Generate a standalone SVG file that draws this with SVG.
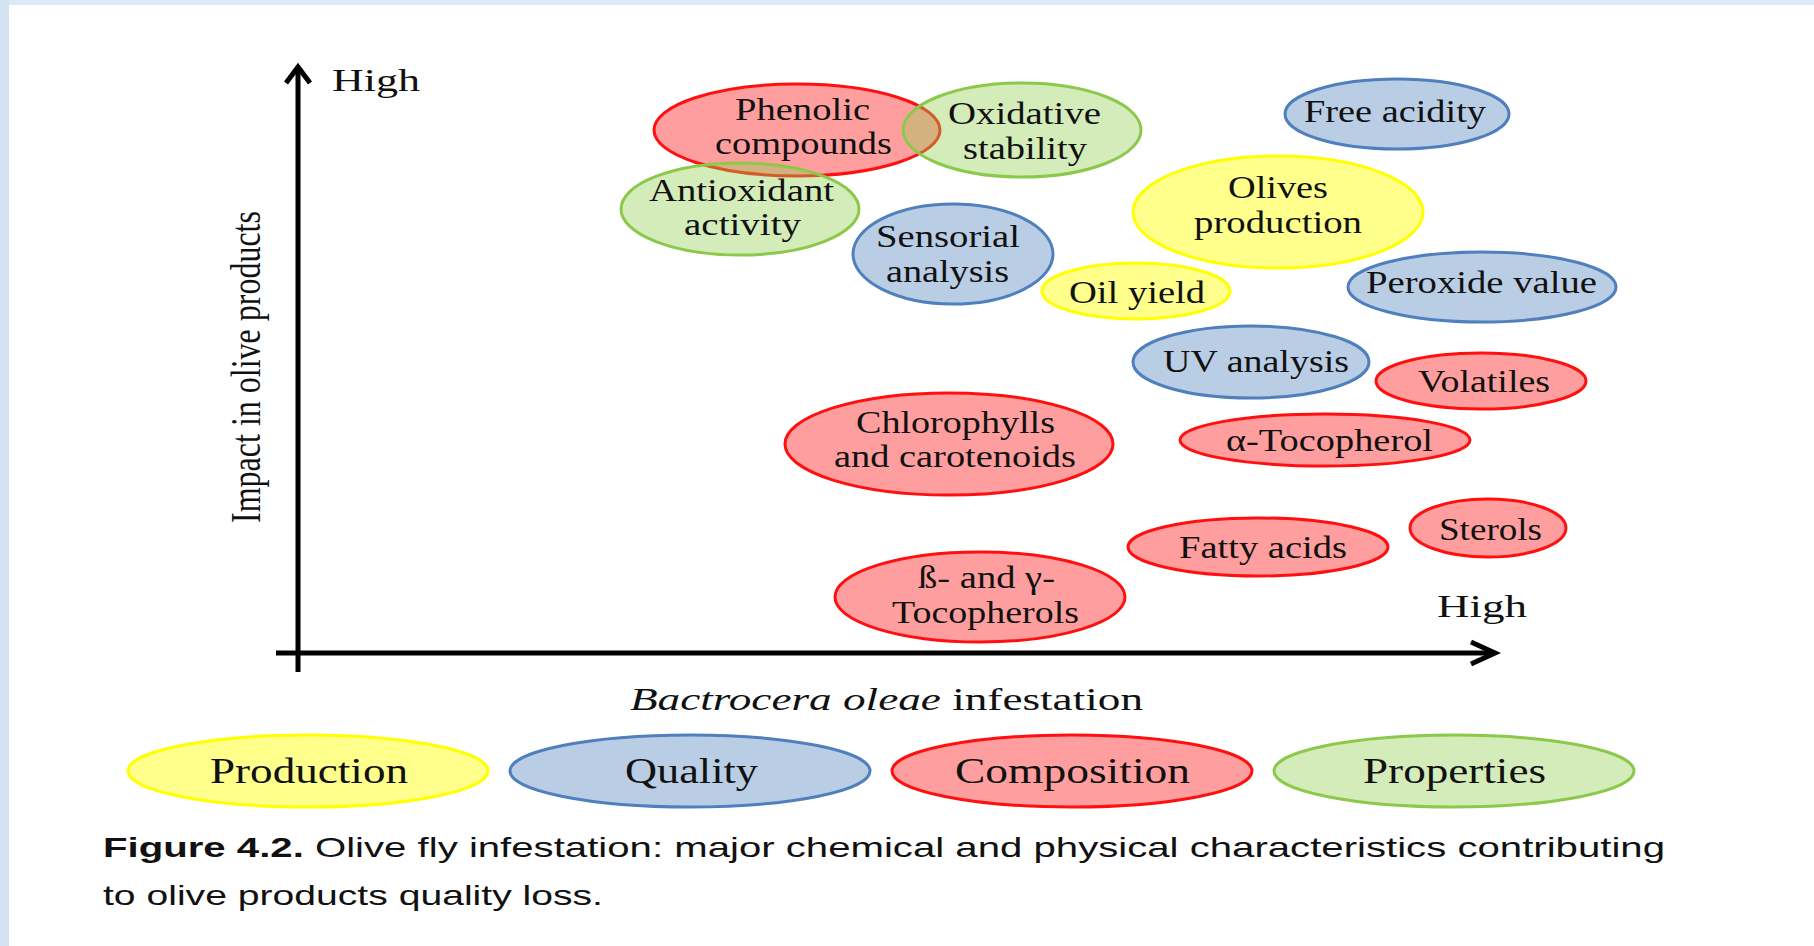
<svg xmlns="http://www.w3.org/2000/svg" width="1814" height="946" viewBox="0 0 1814 946">
<defs>
<style>
.lbl{font-family:"Liberation Serif","Times New Roman",serif;font-size:32px;fill:#111;}
.leg{font-family:"Liberation Serif","Times New Roman",serif;font-size:35px;fill:#111;}
.cap{font-family:"Liberation Sans",Arial,sans-serif;font-size:28px;fill:#111;}
.red{fill:rgba(255,0,0,0.38);stroke:#ff1010;stroke-width:3;}
.grn{fill:rgba(146,208,80,0.4);stroke:#8cc84a;stroke-width:3;}
.blu{fill:rgba(79,129,189,0.4);stroke:#4f7fbd;stroke-width:3;}
.yel{fill:rgba(255,255,0,0.45);stroke:#ffff00;stroke-width:3;}
.axis{stroke:#000;stroke-width:5;fill:none;}
</style>
</defs>
<rect x="0" y="0" width="1814" height="946" fill="#ffffff"/>
<rect x="0" y="0" width="1814" height="5" fill="#dde9f5"/>
<rect x="0" y="0" width="9" height="946" fill="#d3e3f4"/>

<g id="connectors">
<line class="axis" x1="298" y1="68" x2="298" y2="672"/>
<polyline class="axis" points="286,83 298,67 310,83" stroke-linejoin="miter"/>
<line class="axis" x1="276" y1="653" x2="1494" y2="653"/>
<polyline class="axis" points="1471,642 1495,653 1471,664" stroke-linejoin="miter"/>
</g>

<g id="axis-labels">
<text class="lbl" x="332" y="91" textLength="88" lengthAdjust="spacingAndGlyphs">High</text>
<text class="lbl" x="1437" y="617" textLength="90" lengthAdjust="spacingAndGlyphs">High</text>
<text class="lbl" x="630" y="710" textLength="513" lengthAdjust="spacingAndGlyphs"><tspan font-style="italic">Bactrocera oleae</tspan> infestation</text>
<text class="lbl" transform="translate(260,367) scale(1.3,1) rotate(-90)" text-anchor="middle" font-size="33">Impact in olive products</text>
</g>

<g id="node-phenolic">
<ellipse class="red" cx="797" cy="130" rx="143" ry="46"/>
<text class="lbl" x="735" y="120" font-size="31" textLength="135" lengthAdjust="spacingAndGlyphs">Phenolic</text>
<text class="lbl" x="715" y="154" font-size="31" textLength="177" lengthAdjust="spacingAndGlyphs">compounds</text>
</g>
<g id="node-oxidative">
<ellipse class="grn" cx="1022" cy="130" rx="119" ry="47"/>
<text class="lbl" x="948" y="124" textLength="153" lengthAdjust="spacingAndGlyphs">Oxidative</text>
<text class="lbl" x="963" y="159" textLength="124" lengthAdjust="spacingAndGlyphs">stability</text>
</g>
<g id="node-antioxidant">
<ellipse class="grn" cx="740" cy="209" rx="119" ry="46"/>
<text class="lbl" x="649" y="201" textLength="185" lengthAdjust="spacingAndGlyphs">Antioxidant</text>
<text class="lbl" x="684" y="235" textLength="117" lengthAdjust="spacingAndGlyphs">activity</text>
</g>
<g id="node-freeacidity">
<ellipse class="blu" cx="1397" cy="114" rx="112" ry="35"/>
<text class="lbl" x="1304" y="122" textLength="182" lengthAdjust="spacingAndGlyphs">Free acidity</text>
</g>
<g id="node-sensorial">
<ellipse class="blu" cx="953" cy="254" rx="100" ry="50"/>
<text class="lbl" x="876" y="247" textLength="144" lengthAdjust="spacingAndGlyphs">Sensorial</text>
<text class="lbl" x="886" y="282" textLength="123" lengthAdjust="spacingAndGlyphs">analysis</text>
</g>
<g id="node-olives">
<ellipse class="yel" cx="1278" cy="212" rx="145" ry="56"/>
<text class="lbl" x="1228" y="198" textLength="100" lengthAdjust="spacingAndGlyphs">Olives</text>
<text class="lbl" x="1194" y="233" textLength="168" lengthAdjust="spacingAndGlyphs">production</text>
</g>
<g id="node-oilyield">
<ellipse class="yel" cx="1136" cy="291" rx="94" ry="28"/>
<text class="lbl" x="1069" y="303" textLength="136" lengthAdjust="spacingAndGlyphs">Oil yield</text>
</g>
<g id="node-peroxide">
<ellipse class="blu" cx="1482" cy="287" rx="134" ry="35"/>
<text class="lbl" x="1366" y="293" textLength="231" lengthAdjust="spacingAndGlyphs">Peroxide value</text>
</g>
<g id="node-uv">
<ellipse class="blu" cx="1251" cy="362" rx="118" ry="36"/>
<text class="lbl" x="1163" y="372" textLength="186" lengthAdjust="spacingAndGlyphs">UV analysis</text>
</g>
<g id="node-volatiles">
<ellipse class="red" cx="1481" cy="381" rx="105" ry="28"/>
<text class="lbl" x="1418" y="392" textLength="132" lengthAdjust="spacingAndGlyphs">Volatiles</text>
</g>
<g id="node-chlorophylls">
<ellipse class="red" cx="949" cy="444" rx="164" ry="51"/>
<text class="lbl" x="856" y="433" textLength="199" lengthAdjust="spacingAndGlyphs">Chlorophylls</text>
<text class="lbl" x="834" y="467" textLength="242" lengthAdjust="spacingAndGlyphs">and carotenoids</text>
</g>
<g id="node-alphatoc">
<ellipse class="red" cx="1325" cy="440" rx="145" ry="26"/>
<text class="lbl" x="1226" y="451" textLength="207" lengthAdjust="spacingAndGlyphs">α-Tocopherol</text>
</g>
<g id="node-sterols">
<ellipse class="red" cx="1488" cy="528" rx="78" ry="29"/>
<text class="lbl" x="1439" y="540" textLength="103" lengthAdjust="spacingAndGlyphs">Sterols</text>
</g>
<g id="node-fatty">
<ellipse class="red" cx="1258" cy="547" rx="130" ry="29"/>
<text class="lbl" x="1179" y="558" textLength="168" lengthAdjust="spacingAndGlyphs">Fatty acids</text>
</g>
<g id="node-tocopherols">
<ellipse class="red" cx="980" cy="597" rx="145" ry="45"/>
<text class="lbl" x="918" y="588" textLength="137" lengthAdjust="spacingAndGlyphs">ß- and γ-</text>
<text class="lbl" x="892" y="623" textLength="187" lengthAdjust="spacingAndGlyphs">Tocopherols</text>
</g>

<g id="legend-production">
<ellipse class="yel" cx="308" cy="771" rx="180" ry="36"/>
<text class="leg" x="210" y="783" textLength="198" lengthAdjust="spacingAndGlyphs">Production</text>
</g>
<g id="legend-quality">
<ellipse class="blu" cx="690" cy="771" rx="180" ry="36"/>
<text class="leg" x="625" y="783" textLength="133" lengthAdjust="spacingAndGlyphs">Quality</text>
</g>
<g id="legend-composition">
<ellipse class="red" cx="1072" cy="771" rx="180" ry="36"/>
<text class="leg" x="955" y="783" textLength="235" lengthAdjust="spacingAndGlyphs">Composition</text>
</g>
<g id="legend-properties">
<ellipse class="grn" cx="1454" cy="771" rx="180" ry="36"/>
<text class="leg" x="1363" y="783" textLength="183" lengthAdjust="spacingAndGlyphs">Properties</text>
</g>

<g id="caption">
<text class="cap" x="103" y="857" textLength="1562" lengthAdjust="spacingAndGlyphs"><tspan font-weight="bold">Figure 4.2.</tspan> Olive fly infestation: major chemical and physical characteristics contributing</text>
<text class="cap" x="103" y="905" textLength="500" lengthAdjust="spacingAndGlyphs">to olive products quality loss.</text>
</g>
</svg>
